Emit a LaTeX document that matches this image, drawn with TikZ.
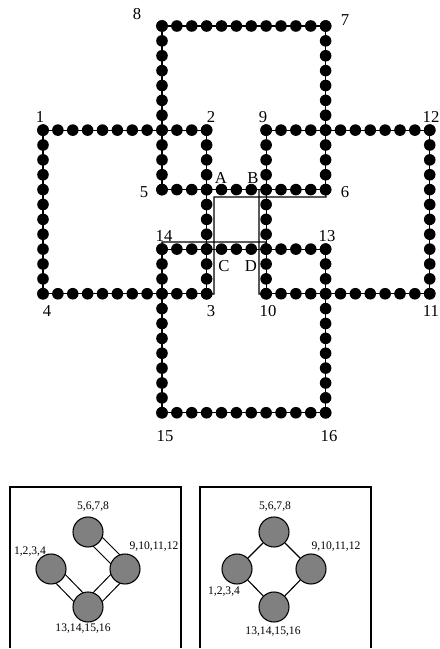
\documentclass[tikz,border=0pt]{standalone}
\usepackage{fontspec}
\setmainfont{Liberation Serif}
\usetikzlibrary{positioning}
\usetikzlibrary{backgrounds}
\tikzset{
    bead/.style={circle, fill=black, inner sep=0pt, minimum size=8.7pt},
    blob/.style={circle, draw=black, fill=gray, line width=0.8pt, inner sep=0pt, minimum size=22.5pt},
    biglabel/.style={inner sep=0pt, font=\fontsize{12.5}{14}\selectfont},
    smalllabel/.style={inner sep=0pt, font=\fontsize{8.7}{10}\selectfont},
    wire/.style={line width=0.85pt},
    duplex/.style={line width=0.85pt, double, double distance=8.6pt},
}
\begin{document}
\begin{tikzpicture}[x=0.75pt, y=-0.75pt]
    \useasboundingbox (0,0) rectangle (439,649);

    % four rings of beads
    \begin{scope}[shift={(43,26)}, x=11.156pt, y=-11.156pt]
        \foreach \a/\b in {0/7, 8/0, 15/7, 8/15} {
            \pgfmathtruncatemacro{\c}{\a+11}
            \pgfmathtruncatemacro{\d}{\b+11}
            \foreach \t in {0,...,11} {
                \pgfmathtruncatemacro{\p}{\a+\t}
                \pgfmathtruncatemacro{\q}{\b+\t}
                \node[bead] (b\p-\b) at (\p,\b) {};
                \node[bead] (b\p-\d) at (\p,\d) {};
                \node[bead] (b\a-\q) at (\a,\q) {};
                \node[bead] (b\c-\q) at (\c,\q) {};
            }
            \draw[wire] (b\a-\b.center) -- (b\c-\b.center) -- (b\c-\d.center) -- (b\a-\d.center) -- cycle;
        }
    \end{scope}

    % thin lines through the middle
    \coordinate (p3) at (214,294);
    \coordinate (p6) at (214,197);
    \coordinate (q6) at (326,197);
    \coordinate (p10) at (259,294);
    \coordinate (q10) at (259,190);
    \coordinate (p14) at (162,242);
    \coordinate (p13) at (266,242);
    \draw[wire] (b11-18.center) -- (p3) -- (p6) -- (q6) -- (b19-11.center);
    \draw[wire] (b15-18.center) -- (p10) -- (q10);
    \draw[wire] (b8-15.center) -- (p14) -- (p13) -- (b15-15.center);

    \node[biglabel] (n1) at (40,117) {1};
    \node[biglabel] (n2) at (211,117) {2};
    \node[biglabel] (n3) at (211,311) {3};
    \node[biglabel] (n4) at (47,311) {4};
    \node[biglabel] (n5) at (144,192) {5};
    \node[biglabel] (n6) at (345,192) {6};
    \node[biglabel] (n7) at (345,20) {7};
    \node[biglabel] (n8) at (137,14) {8};
    \node[biglabel] (n9) at (263,117) {9};
    \node[biglabel] (n10) at (268,311) {10};
    \node[biglabel] (n11) at (431,311) {11};
    \node[biglabel] (n12) at (431,117) {12};
    \node[biglabel] (n13) at (327,236) {13};
    \node[biglabel] (n14) at (164,236) {14};
    \node[biglabel] (n15) at (165,436) {15};
    \node[biglabel] (n16) at (329,436) {16};
    \node[biglabel] (nA) at (221,178) {A};
    \node[biglabel] (nB) at (253,178) {B};
    \node[biglabel] (nC) at (224,266) {C};
    \node[biglabel] (nD) at (251,266) {D};

    % left panel
    \draw[wire] (10,648) -- (10,487) -- (181,487) -- (181,648);
    \node[blob] (ltop) at (88,532) {};
    \node[blob] (lleft) at (51,569) {};
    \node[blob] (lright) at (125,569) {};
    \node[blob] (lbot) at (88,607) {};
    \begin{scope}[on background layer]
        \draw[duplex] (ltop.center) -- (lright.center);
        \draw[duplex] (lleft.center) -- (lbot.center);
        \draw[duplex] (lright.center) -- (lbot.center);
    \end{scope}
    \node[smalllabel] (ltopname) at (93,507) {5,6,7,8};
    \node[smalllabel] (lleftname) at (30,552) {1,2,3,4};
    \node[smalllabel] (lrightname) at (154,547) {9,10,11,12};
    \node[smalllabel] (lbotname) at (83,629) {13,14,15,16};

    % right panel
    \draw[wire] (200,648) -- (200,487) -- (371,487) -- (371,648);
    \node[blob] (rtop) at (274,532) {};
    \node[blob] (rleft) at (237,569) {};
    \node[blob] (rright) at (311,569) {};
    \node[blob] (rbot) at (274,607) {};
    \draw[wire] (rtop) -- (rright) -- (rbot) -- (rleft) -- (rtop);
    \node[smalllabel] (rtopname) at (275,507) {5,6,7,8};
    \node[smalllabel] (rleftname) at (224,592) {1,2,3,4};
    \node[smalllabel] (rrightname) at (336,547) {9,10,11,12};
    \node[smalllabel] (rbotname) at (273,632) {13,14,15,16};
\end{tikzpicture}
\end{document}
